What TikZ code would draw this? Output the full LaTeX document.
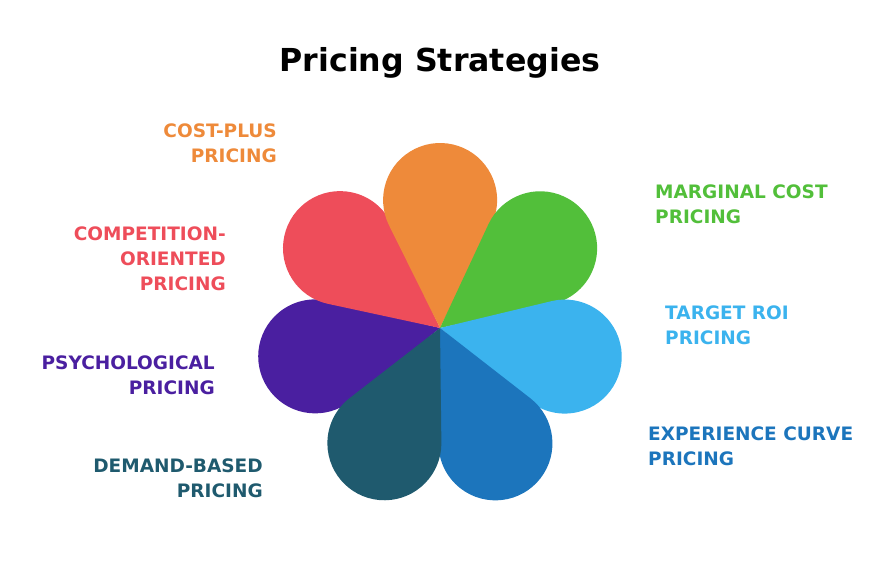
\documentclass[tikz,border=0pt]{standalone}
\usepackage{fontspec}
\setmainfont{DejaVu Sans}
\usetikzlibrary{positioning}
\definecolor{cOrange}{HTML}{EE8A3A}
\definecolor{cGreen}{HTML}{52BF3A}
\definecolor{cLight}{HTML}{3BB3EE}
\definecolor{cBlue}{HTML}{1C75BC}
\definecolor{cTeal}{HTML}{1F5A6E}
\definecolor{cPurple}{HTML}{4A1FA0}
\definecolor{cRed}{HTML}{EE4D5A}
\tikzset{
  lbl/.style={font=\fontsize{15.8}{21}\selectfont\bfseries, inner sep=0pt},
  lblL/.style={lbl, align=left, anchor=north west},
  lblR/.style={lbl, align=right, anchor=north east},
}
\begin{document}
\begin{tikzpicture}[x=0.3mm,y=0.3mm]
\useasboundingbox (0,0) rectangle (880,578);

\node[font=\fontsize{27}{30}\selectfont\bfseries] (title) at (440,515) {Pricing Strategies};

\coordinate (c) at (440,250);
% petals: angle / colour
\foreach \a/\col in {-167.14/cPurple, 141.43/cRed, 90/cOrange, 38.57/cGreen, -12.86/cLight, -64.29/cBlue, -115.71/cTeal}{
  \fill[\col] (c) -- ++(\a+26.4:114.6) arc[start angle=\a+116.4, end angle=\a-116.4, radius=57] -- cycle;
}

\node[lblR, text=cOrange] (cost) at (277,454) {COST-PLUS\\PRICING};
\node[lblL, text=cGreen] (marg) at (655,393) {MARGINAL COST\\PRICING};
\node[lblL, text=cLight] (roi) at (665,272) {TARGET ROI\\PRICING};
\node[lblL, text=cBlue] (exp) at (648,151) {EXPERIENCE CURVE\\PRICING};
\node[lblR, text=cTeal] (dem) at (263,119) {DEMAND-BASED\\PRICING};
\node[lblR, text=cPurple] (psy) at (215,222) {PSYCHOLOGICAL\\PRICING};
\node[lblR, text=cRed] (comp) at (226,351) {COMPETITION-\\ORIENTED\\PRICING};
\end{tikzpicture}
\end{document}
